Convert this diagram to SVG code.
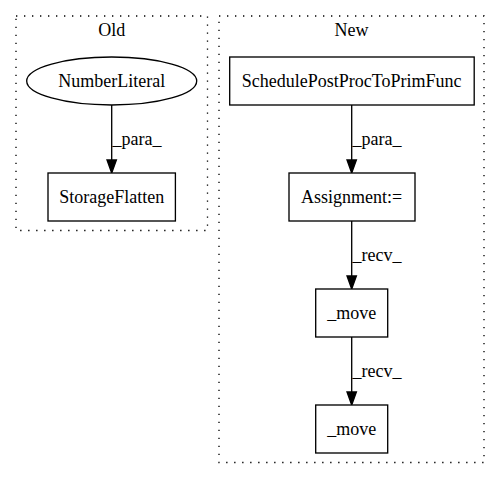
<svg xmlns="http://www.w3.org/2000/svg" width="501" height="480" viewBox="0 0 501 480">
<defs>
<style>
text{font-family:"Liberation Serif","Times New Roman",serif;font-size:18px;fill:#000}
.c{text-anchor:middle}
.cl{fill:none;stroke:#000;stroke-width:1.33;stroke-dasharray:1.33,6.67}
.n{fill:#fff;stroke:#000;stroke-width:1.33}
.e{fill:none;stroke:#000;stroke-width:1.33}
.a{fill:#000;stroke:#000;stroke-width:1.33}
</style>
</defs>
<rect width="501" height="480" fill="#fff"/>
<g id="cluster_old">
<rect class="cl" x="16" y="16" width="191.5" height="214.5"/>
<text class="c" x="111.7" y="36">Old</text>
</g>
<g id="cluster_new">
<rect class="cl" x="219" y="16" width="265" height="446.5"/>
<text class="c" x="351.5" y="36">New</text>
</g>
<g id="edges">
<line class="e" x1="111.7" y1="105" x2="111.7" y2="160"/>
<polygon class="a" points="107,160 116.4,160 111.7,173"/>
<text x="112.5" y="145">_para_</text>
<line class="e" x1="351.7" y1="105" x2="351.7" y2="160"/>
<polygon class="a" points="347,160 356.4,160 351.7,173"/>
<text x="352.5" y="145">_para_</text>
<line class="e" x1="351.7" y1="221" x2="351.7" y2="276"/>
<polygon class="a" points="347,276 356.4,276 351.7,289"/>
<text x="352.5" y="261">_recv_</text>
<line class="e" x1="351.7" y1="337" x2="351.7" y2="392"/>
<polygon class="a" points="347,392 356.4,392 351.7,405"/>
<text x="352.5" y="377">_recv_</text>
</g>
<g id="NumberLiteral">
<ellipse class="n" cx="111.7" cy="81" rx="85" ry="24"/>
<text class="c" x="111.7" y="86.5">NumberLiteral</text>
</g>
<g id="StorageFlatten">
<rect class="n" x="48" y="173" width="127.4" height="48"/>
<text class="c" x="111.7" y="202.5">StorageFlatten</text>
</g>
<g id="SchedulePostProcToPrimFunc">
<rect class="n" x="229.7" y="57" width="244.5" height="48"/>
<text class="c" x="351.7" y="86.5">SchedulePostProcToPrimFunc</text>
</g>
<g id="Assignment">
<rect class="n" x="289" y="173" width="126" height="48"/>
<text class="c" x="351.7" y="202.5">Assignment:=</text>
</g>
<g id="move1">
<rect class="n" x="315.7" y="289" width="72" height="48"/>
<text class="c" x="351.7" y="318.5">_move</text>
</g>
<g id="move2">
<rect class="n" x="315.7" y="405" width="72" height="48"/>
<text class="c" x="351.7" y="434.5">_move</text>
</g>
</svg>
